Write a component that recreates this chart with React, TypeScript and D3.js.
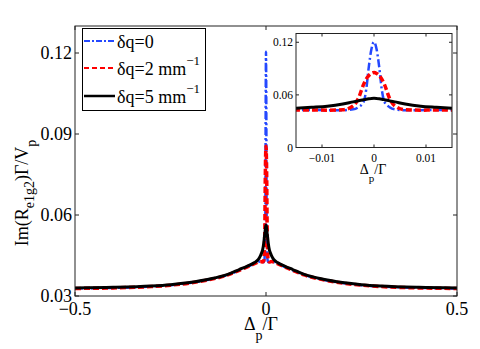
import * as d3 from "d3";

// detuning grid (Δp/Γ) shared by the main plot and the inset
const delta = [
  -0.5, -0.4, -0.3, -0.25, -0.2, -0.15, -0.1, -0.07, -0.05, -0.03, -0.02,
  -0.015, -0.012, -0.009, -0.006, -0.004, -0.003, -0.002, -0.0015, -0.001, -0.0005,
  0,
  0.0005, 0.001, 0.0015, 0.002, 0.003, 0.004, 0.006, 0.009, 0.012, 0.015,
  0.02, 0.03, 0.05, 0.07, 0.1, 0.15, 0.2, 0.25, 0.3, 0.4, 0.5,
];

// δq = 0
const dq0 = [
  0.0328, 0.0330, 0.0335, 0.0340, 0.0348, 0.0360, 0.0378, 0.0395, 0.0407, 0.0420, 0.0426,
  0.0428, 0.0427, 0.0426, 0.0425, 0.0435, 0.0460, 0.0520, 0.0660, 0.0920, 0.1120,
  0.1205,
  0.1120, 0.0920, 0.0660, 0.0520, 0.0460, 0.0435, 0.0425, 0.0426, 0.0427, 0.0428,
  0.0426, 0.0420, 0.0407, 0.0395, 0.0378, 0.0360, 0.0348, 0.0340, 0.0335, 0.0330, 0.0328,
];

// δq = 2 mm^-1
const dq2 = [
  0.0328, 0.0330, 0.0335, 0.0340, 0.0348, 0.0360, 0.0378, 0.0395, 0.0407, 0.0420, 0.0426,
  0.0428, 0.0427, 0.0426, 0.0430, 0.0475, 0.0560, 0.0720, 0.0780, 0.0820, 0.0845,
  0.0855,
  0.0845, 0.0820, 0.0780, 0.0720, 0.0560, 0.0475, 0.0430, 0.0426, 0.0427, 0.0428,
  0.0426, 0.0420, 0.0407, 0.0395, 0.0378, 0.0360, 0.0348, 0.0340, 0.0335, 0.0330, 0.0328,
];

// δq = 5 mm^-1
const dq5 = [
  0.0330, 0.0332, 0.0337, 0.0342, 0.0350, 0.0362, 0.0380, 0.0398, 0.0410, 0.0424, 0.0436,
  0.0448, 0.0458, 0.0470, 0.0495, 0.0520, 0.0532, 0.0545, 0.0551, 0.0556, 0.0560,
  0.0562,
  0.0560, 0.0556, 0.0551, 0.0545, 0.0532, 0.0520, 0.0495, 0.0470, 0.0458, 0.0448,
  0.0436, 0.0424, 0.0410, 0.0398, 0.0380, 0.0362, 0.0350, 0.0342, 0.0337, 0.0332, 0.0330,
];

const mainXTicks = [-0.5, 0, 0.5];
const mainYTicks = [0.03, 0.06, 0.09, 0.12];
const insetXTicks = [-0.01, 0, 0.01];
const insetYTicks = [0, 0.06, 0.12];

const FONT = "Liberation Serif, Times New Roman, DejaVu Serif, serif";

const series = [
  { name: "dq0", values: dq0, color: "#2448ff", width: 2.5, dash: "8,3,2,3", label: "δq=0", sup: "" },
  { name: "dq2", values: dq2, color: "#ff0000", width: 3.5, dash: "6,3", label: "δq=2 mm", sup: "−1" },
  { name: "dq5", values: dq5, color: "#000000", width: 3, dash: null, label: "δq=5 mm", sup: "−1" },
];

const App = () => {
  const W = 480;
  const H = 349;

  // main axes
  const m = { left: 75, right: 457, top: 26, bottom: 296 };
  const x = d3.scaleLinear().domain([-0.5, 0.5]).range([m.left, m.right]);
  const y = d3.scaleLinear().domain([0.03, 0.13]).range([m.bottom, m.top]);

  // inset axes
  const ins = { left: 296, right: 452, top: 33.5, bottom: 147.5 };
  const xi = d3.scaleLinear().domain([-0.015, 0.015]).range([ins.left, ins.right]);
  const yi = d3.scaleLinear().domain([0, 0.13]).range([ins.bottom, ins.top]);

  const pts = (vals: number[]) => delta.map((d, i) => [d, vals[i]] as [number, number]);

  const mainLine = d3.line<[number, number]>()
    .x(d => x(d[0]))
    .y(d => y(d[1]))
    .curve(d3.curveMonotoneX);

  const insetLine = d3.line<[number, number]>()
    .x(d => xi(d[0]))
    .y(d => yi(d[1]))
    .curve(d3.curveMonotoneX);

  const fmtMain = (v: number) => (v < 0 ? "−" : "") + Math.abs(v).toString();
  const fmtY = (v: number) => v.toFixed(2);
  const fmtInsetX = (v: number) => (v === 0 ? "0" : (v < 0 ? "−" : "") + Math.abs(v).toFixed(2));
  const fmtInsetY = (v: number) => (v === 0 ? "0" : v.toFixed(2));

  const tk = 4;
  const tki = 3;

  return (
    <svg width={W} height={H} style={{ position: "absolute", left: 0, top: 0, background: "#fff", fontFamily: FONT }}>
      <defs>
        <clipPath id="mainClip">
          <rect x={m.left} y={m.top} width={m.right - m.left} height={m.bottom - m.top} />
        </clipPath>
        <clipPath id="insetClip">
          <rect x={ins.left} y={ins.top} width={ins.right - ins.left} height={ins.bottom - ins.top} />
        </clipPath>
      </defs>
      <rect x={0} y={0} width={W} height={H} fill="#fff" />

      {/* main curves */}
      <g clipPath="url(#mainClip)">
        {series.map(s => (
          <path key={s.name} d={mainLine(pts(s.values)) || ""} fill="none" stroke={s.color}
            strokeWidth={s.width} strokeDasharray={s.dash || undefined} strokeLinejoin="round" />
        ))}
      </g>

      {/* main box and ticks */}
      <rect x={m.left} y={m.top} width={m.right - m.left} height={m.bottom - m.top}
        fill="none" stroke="#222" strokeWidth={1} />
      {mainXTicks.map(t => (
        <g key={"mx" + t}>
          <line x1={x(t)} x2={x(t)} y1={m.bottom} y2={m.bottom - tk} stroke="#222" />
          <line x1={x(t)} x2={x(t)} y1={m.top} y2={m.top + tk} stroke="#222" />
          <text x={x(t)} y={m.bottom + 19} fontSize={18} textAnchor="middle">{fmtMain(t)}</text>
        </g>
      ))}
      {mainYTicks.map(t => (
        <g key={"my" + t}>
          <line x1={m.left} x2={m.left + tk} y1={y(t)} y2={y(t)} stroke="#222" />
          <line x1={m.right} x2={m.right - tk} y1={y(t)} y2={y(t)} stroke="#222" />
          <text x={m.left - 3} y={y(t) + 6} fontSize={18} textAnchor="end">{fmtY(t)}</text>
        </g>
      ))}

      {/* axis labels */}
      <text x={261} y={330} fontSize={18} textAnchor="middle">
        Δ<tspan fontSize={14} dy={10}>p</tspan><tspan dy={-10}>/Γ</tspan>
      </text>
      <text transform="translate(28,193) rotate(-90)" fontSize={18} textAnchor="middle">
        Im(R<tspan fontSize={14} dy={6}>e1g2</tspan><tspan dy={-6}>)Γ/V</tspan>
        <tspan fontSize={14} dy={8}>p</tspan>
      </text>

      {/* legend */}
      <rect x={82.5} y={28.5} width={123} height={82} fill="#fff" stroke="#000" strokeWidth={1} />
      {series.map((s, i) => {
        const ly = [41, 68, 96][i];
        return (
          <g key={"lg" + s.name}>
            <line x1={84} x2={115} y1={ly} y2={ly} stroke={s.color}
              strokeWidth={s.name === "dq5" ? 2.5 : 2} strokeDasharray={s.dash ? (s.name === "dq0" ? "6,2,2,2" : "5,3") : undefined} />
            <text x={117} y={ly + 7} fontSize={18}>
              {s.label}
              {s.sup ? <tspan fontSize={13} dy={-10}>{s.sup}</tspan> : null}
            </text>
          </g>
        );
      })}

      {/* inset */}
      <rect x={ins.left} y={ins.top} width={ins.right - ins.left} height={ins.bottom - ins.top} fill="#fff" />
      <g clipPath="url(#insetClip)">
        {series.map(s => (
          <path key={"i" + s.name} d={insetLine(pts(s.values)) || ""} fill="none" stroke={s.color}
            strokeWidth={s.width} strokeDasharray={s.dash || undefined} strokeLinejoin="round" />
        ))}
      </g>
      <rect x={ins.left} y={ins.top} width={ins.right - ins.left} height={ins.bottom - ins.top}
        fill="none" stroke="#222" strokeWidth={1} />
      {insetXTicks.map(t => (
        <g key={"ix" + t}>
          <line x1={xi(t)} x2={xi(t)} y1={ins.bottom} y2={ins.bottom - tki} stroke="#222" />
          <line x1={xi(t)} x2={xi(t)} y1={ins.top} y2={ins.top + tki} stroke="#222" />
          <text x={xi(t)} y={ins.bottom + 14} fontSize={11.5} textAnchor="middle">{fmtInsetX(t)}</text>
        </g>
      ))}
      {insetYTicks.map(t => (
        <g key={"iy" + t}>
          <line x1={ins.left} x2={ins.left + tki} y1={yi(t)} y2={yi(t)} stroke="#222" />
          <line x1={ins.right} x2={ins.right - tki} y1={yi(t)} y2={yi(t)} stroke="#222" />
          <text x={ins.left - 3} y={yi(t) + 4} fontSize={11.5} textAnchor="end">{fmtInsetY(t)}</text>
        </g>
      ))}
      <text x={373} y={174} fontSize={14} textAnchor="middle">
        Δ<tspan fontSize={11} dy={8}>p</tspan><tspan dy={-8}>/Γ</tspan>
      </text>
    </svg>
  );
};

export default App;
